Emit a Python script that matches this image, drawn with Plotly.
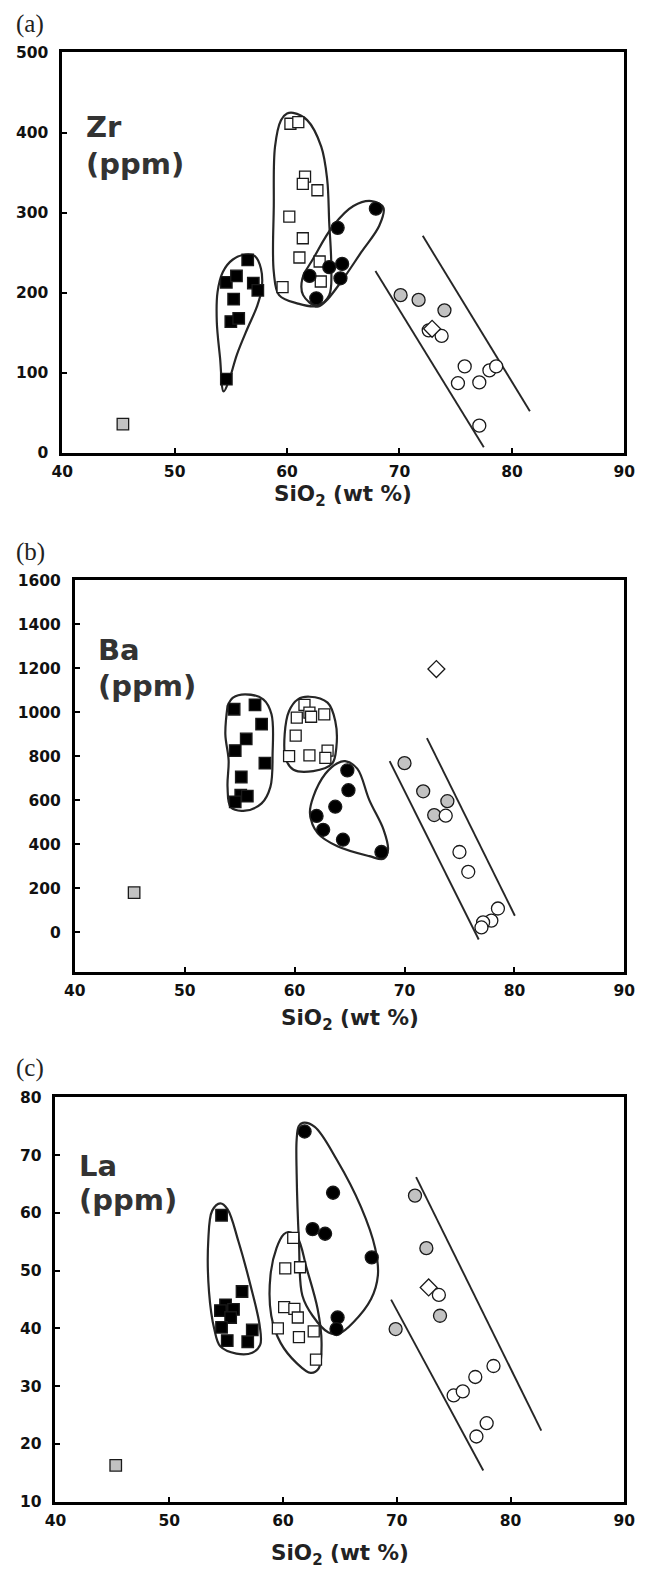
import plotly.graph_objects as go

# ---------------- Panel (a): Zr vs SiO2 ----------------
zr_fsq_x = [54.6, 54.6, 55.5, 56.5, 57.0, 57.4, 55.25, 55.0, 55.7]
zr_fsq_y = [92, 213, 221, 241, 212, 203, 192, 164, 168]
zr_osq_x = [60.3, 61.0, 61.6, 61.4, 62.7, 60.2, 61.4, 61.1, 62.9, 63.0, 59.6]
zr_osq_y = [411, 413, 345, 336, 328, 295, 268, 244, 239, 214, 207]
zr_fci_x = [67.9, 64.5, 63.75, 64.9, 62.0, 64.75, 62.6]
zr_fci_y = [305, 281, 232, 236, 221, 218, 193]
zr_gci_x = [70.1, 71.7, 74.0]
zr_gci_y = [197, 191, 178]
zr_oci_x = [72.6, 73.75, 75.8, 75.2, 77.1, 78.0, 78.6, 77.1]
zr_oci_y = [153, 146, 108, 87, 88, 103, 108, 34]
zr_dia_x = [72.9]
zr_dia_y = [155]
zr_gsq_x = [45.4]
zr_gsq_y = [36]

# trend lines (two parallel bounds)
zr_line1_x = [67.86, 77.5]
zr_line1_y = [227, 7]
zr_line2_x = [72.07, 81.6]
zr_line2_y = [271, 52]

# field outlines
zr_env1_x = [53.75, 53.82, 54.29, 55.18, 56.32, 57.14, 57.68, 57.75, 57.32, 56.43, 55.54, 54.82, 54.36, 54.04, 53.75]
zr_env1_y = [164, 201, 226, 241.5, 247.7, 245.7, 230, 205, 182.6, 153.8, 122.8, 89.9, 76.7, 118.7, 164]
zr_env2_x = [58.82, 58.93, 59.46, 60.0, 60.54, 61.79, 63.04, 63.57, 63.75, 63.93, 63.75, 62.68, 60.9, 59.29, 58.82, 58.82]
zr_env2_y = [308, 382.5, 415.5, 423.7, 424.6, 415.5, 382.5, 341.3, 287.7, 234, 197, 183.4, 186.7, 197, 226, 308]
zr_env3_x = [64.1, 65.9, 67.5, 68.57, 68.2, 66.6, 64.8, 63.4, 62.68, 61.43, 61.36, 62.32, 64.1]
zr_env3_y = [283.6, 308.3, 314.5, 306.3, 283.6, 250.6, 213.5, 188.8, 182.6, 197, 217.6, 242.4, 283.6]

# ---------------- Panel (b): Ba vs SiO2 ----------------
ba_fsq_x = [54.5, 56.4, 57.0, 55.6, 54.6, 57.3, 55.15, 55.1, 55.7, 54.6]
ba_fsq_y = [1014, 1034, 946, 879, 826, 769, 706, 623, 619, 593]
ba_osq_x = [60.9, 61.35, 61.5, 60.2, 62.7, 60.1, 59.5, 61.35, 63.0, 62.8]
ba_osq_y = [1034, 999, 980, 976, 991, 894, 801, 804, 826, 793]
ba_fci_x = [64.8, 64.9, 63.7, 62.0, 62.6, 64.4, 67.9]
ba_fci_y = [736, 646, 571, 529, 466, 421, 365]
ba_gci_x = [70.0, 71.7, 73.9, 72.7]
ba_gci_y = [769, 641, 596, 533]
ba_oci_x = [73.75, 75.0, 75.8, 78.5, 77.9, 77.15, 77.0]
ba_oci_y = [530, 365, 275, 108, 53, 45, 22]
ba_dia_x = [72.9]
ba_dia_y = [1197]
ba_gsq_x = [45.4]
ba_gsq_y = [180]

ba_line1_x = [68.65, 76.75]
ba_line1_y = [778, -33]
ba_line2_x = [72.04, 80.04]
ba_line2_y = [883, 75]

ba_env1_x = [53.9, 53.9, 54.4, 55.5, 57.15, 57.9, 58.0, 57.8, 57.0, 55.5, 54.2, 53.9, 54.0, 53.7, 53.9]
ba_env1_y = [1029, 1029, 1067, 1082, 1059, 991, 811, 661, 586, 553, 568, 661, 781, 901, 1029]
ba_env2_x = [59.1, 59.5, 60.3, 61.35, 63.0, 63.7, 63.8, 63.4, 61.7, 59.9, 59.2, 59.1]
ba_env2_y = [901, 1006, 1059, 1071, 1044, 961, 841, 766, 733, 739, 789, 901]
ba_env3_x = [66.8, 68.1, 68.5, 68.1, 66.8, 63.9, 62.1, 61.4, 61.7, 62.8, 63.9, 64.6, 65.7, 66.8]
ba_env3_y = [601, 466, 376, 334, 346, 391, 451, 541, 616, 721, 769, 778, 744, 601]

# ---------------- Panel (c): La vs SiO2 ----------------
la_fsq_x = [54.6, 56.4, 54.95, 54.5, 55.65, 55.4, 54.6, 55.1, 56.9, 57.3]
la_fsq_y = [59.6, 46.4, 44.1, 43.1, 43.3, 41.9, 40.2, 37.9, 37.7, 39.75]
la_osq_x = [60.9, 60.2, 61.5, 60.1, 61.0, 61.3, 59.55, 61.4, 62.7, 62.9]
la_osq_y = [55.7, 50.4, 50.6, 43.7, 43.4, 41.9, 40.0, 38.5, 39.5, 34.6]
la_fci_x = [61.9, 64.4, 62.6, 63.7, 67.8, 64.8, 64.7]
la_fci_y = [74.1, 63.5, 57.2, 56.4, 52.3, 41.9, 39.9]
la_gci_x = [71.6, 72.6, 73.8, 69.9]
la_gci_y = [63.0, 53.9, 42.2, 39.9]
la_oci_x = [73.7, 78.5, 76.9, 75.0, 75.8, 77.9, 77.0]
la_oci_y = [45.8, 33.5, 31.6, 28.4, 29.1, 23.6, 21.3]
la_dia_x = [72.8]
la_dia_y = [47.1]
la_gsq_x = [45.3]
la_gsq_y = [16.3]

la_line1_x = [71.7, 82.7]
la_line1_y = [66.2, 22.3]
la_line2_x = [69.5, 77.6]
la_line2_y = [45.0, 15.4]

la_env1_x = [53.43, 53.78, 54.49, 55.12, 56.08, 57.14, 57.95, 58.0, 57.3, 55.9, 54.49, 53.96, 53.5, 53.43]
la_env1_y = [55.1, 60.4, 61.66, 60.67, 55.1, 47.5, 40.5, 37.2, 35.8, 35.65, 36.9, 39.9, 46.3, 55.1]
la_env2_x = [58.9, 59.43, 60.07, 60.49, 61.27, 62.08, 63.04, 63.39, 63.14, 62.44, 61.2, 59.79, 58.97, 58.9]
la_env2_y = [49.2, 53.9, 56.3, 56.7, 55.7, 50.4, 43.4, 37.5, 33.1, 32.3, 34.0, 37.5, 42.2, 49.2]
la_env3_x = [61.2, 61.2, 61.38, 61.73, 62.79, 64.73, 66.86, 68.1, 68.34, 67.74, 66.15, 65.0, 64.0, 62.6, 61.7, 61.4, 61.2]
la_env3_y = [66.8, 72.7, 75.0, 75.6, 74.9, 69.2, 61.0, 53.9, 49.2, 45.1, 41.0, 39.2, 39.3, 42.2, 45.7, 55.1, 66.8]

# ---------------- styling ----------------
INK = "#1a1a1a"
GREY = "#c2c2c2"
FONT = "DejaVu Sans"

fig = go.Figure()


def add_panel(ax, fsq, osq, fci, gci, oci, dia, gsq, lines, envs):
    xa, ya = ("x", "y") if ax == 1 else (f"x{ax}", f"y{ax}")
    for ex, ey in envs:
        fig.add_trace(go.Scatter(x=ex, y=ey, mode="lines", xaxis=xa, yaxis=ya,
                                 line=dict(color="#262626", width=2.2, shape="spline", smoothing=1.0),
                                 hoverinfo="skip", showlegend=False))
    for lx, ly in lines:
        fig.add_trace(go.Scatter(x=lx, y=ly, mode="lines", xaxis=xa, yaxis=ya,
                                 line=dict(color="#262626", width=1.9),
                                 hoverinfo="skip", showlegend=False))
    groups = [
        (gsq, "square", 11.5, GREY),
        (fsq, "square", 11.5, "black"),
        (osq, "square", 11, "white"),
        (fci, "circle", 13, "black"),
        (gci, "circle", 13, GREY),
        (oci, "circle", 13, "white"),
        (dia, "diamond", 13, "white"),
    ]
    for (gx, gy), sym, size, fill in groups:
        fig.add_trace(go.Scatter(x=gx, y=gy, mode="markers", xaxis=xa, yaxis=ya,
                                 marker=dict(symbol=sym, size=size, color=fill,
                                             line=dict(color=INK, width=1.3)),
                                 showlegend=False))


add_panel(1, (zr_fsq_x, zr_fsq_y), (zr_osq_x, zr_osq_y), (zr_fci_x, zr_fci_y),
          (zr_gci_x, zr_gci_y), (zr_oci_x, zr_oci_y), (zr_dia_x, zr_dia_y), (zr_gsq_x, zr_gsq_y),
          [(zr_line1_x, zr_line1_y), (zr_line2_x, zr_line2_y)],
          [(zr_env1_x, zr_env1_y), (zr_env2_x, zr_env2_y), (zr_env3_x, zr_env3_y)])
add_panel(2, (ba_fsq_x, ba_fsq_y), (ba_osq_x, ba_osq_y), (ba_fci_x, ba_fci_y),
          (ba_gci_x, ba_gci_y), (ba_oci_x, ba_oci_y), (ba_dia_x, ba_dia_y), (ba_gsq_x, ba_gsq_y),
          [(ba_line1_x, ba_line1_y), (ba_line2_x, ba_line2_y)],
          [(ba_env1_x, ba_env1_y), (ba_env2_x, ba_env2_y), (ba_env3_x, ba_env3_y)])
add_panel(3, (la_fsq_x, la_fsq_y), (la_osq_x, la_osq_y), (la_fci_x, la_fci_y),
          (la_gci_x, la_gci_y), (la_oci_x, la_oci_y), (la_dia_x, la_dia_y), (la_gsq_x, la_gsq_y),
          [(la_line1_x, la_line1_y), (la_line2_x, la_line2_y)],
          [(la_env1_x, la_env1_y), (la_env2_x, la_env2_y), (la_env3_x, la_env3_y)])

W, H = 645, 1575
RIGHT = 635

# pixel boxes of the three frames: (left, top, bottom)
frames = [(53, 44, 449), (66, 578, 974), (46, 1101, 1510)]
yranges = [[0, 500], [-180, 1600], [10, 80]]
ydticks = [100, 200, 10]

tickfont = dict(family=FONT, size=15.5, color="#111111", weight="bold")
axis_common = dict(showline=True, linewidth=2.6, linecolor="black", mirror=True,
                   ticks="inside", ticklen=5, tickwidth=2, tickcolor="black",
                   showgrid=False, zeroline=False, tickfont=tickfont, fixedrange=True)

layout_axes = {}
for i, ((left, top, bottom), yr, dt) in enumerate(zip(frames, yranges, ydticks), start=1):
    sx = "" if i == 1 else str(i)
    layout_axes[f"xaxis{sx}"] = dict(axis_common, range=[40, 90], dtick=10, tick0=40,
                                     domain=[left / W, RIGHT / W], anchor=f"y{sx}",
                                     ticklabelstandoff=3, ticklabeloverflow="allow")
    layout_axes[f"yaxis{sx}"] = dict(axis_common, range=yr, dtick=dt, tick0=0,
                                     domain=[1 - bottom / H, 1 - top / H], anchor=f"x{sx}",
                                     ticklabelstandoff=8)

fig.update_layout(width=W, height=H, margin=dict(l=0, r=0, t=0, b=0),
                  paper_bgcolor="white", plot_bgcolor="white", showlegend=False,
                  **layout_axes)

# panel letters, axis titles and element labels
letters = [("(a)", 15), ("(b)", 549), ("(c)", 1071)]
for txt, yc in letters:
    fig.add_annotation(text=txt, xref="paper", yref="paper", x=3 / W, y=1 - yc / H,
                       xanchor="left", yanchor="middle", showarrow=False,
                       font=dict(family="Liberation Serif", size=25, color="#222222"))

title_y = [492, 1022, 1563]
for (left, top, bottom), ty in zip(frames, title_y):
    fig.add_annotation(text="SiO<sub>2</sub> (wt %)", xref="paper", yref="paper",
                       x=(left + RIGHT) / 2 / W, y=1 - ty / H, xanchor="center", yanchor="middle",
                       showarrow=False, font=dict(family=FONT, size=21.5, color="#222222", weight="bold"))

elem_labels = [("x", "y", "Zr", 407, 361), ("x2", "y2", "Ba", 1284, 1118), ("x3", "y3", "La", 68.2, 62.2)]
for xr, yr_, el, y1, y2 in elem_labels:
    for txt, yy in ((el, y1), ("(ppm)", y2)):
        fig.add_annotation(text=txt, xref=xr, yref=yr_, x=41.9, y=yy, xanchor="left",
                           yanchor="middle", showarrow=False,
                           font=dict(family=FONT, size=29, color="#333333", weight="bold"))

fig.write_html("out.html")
